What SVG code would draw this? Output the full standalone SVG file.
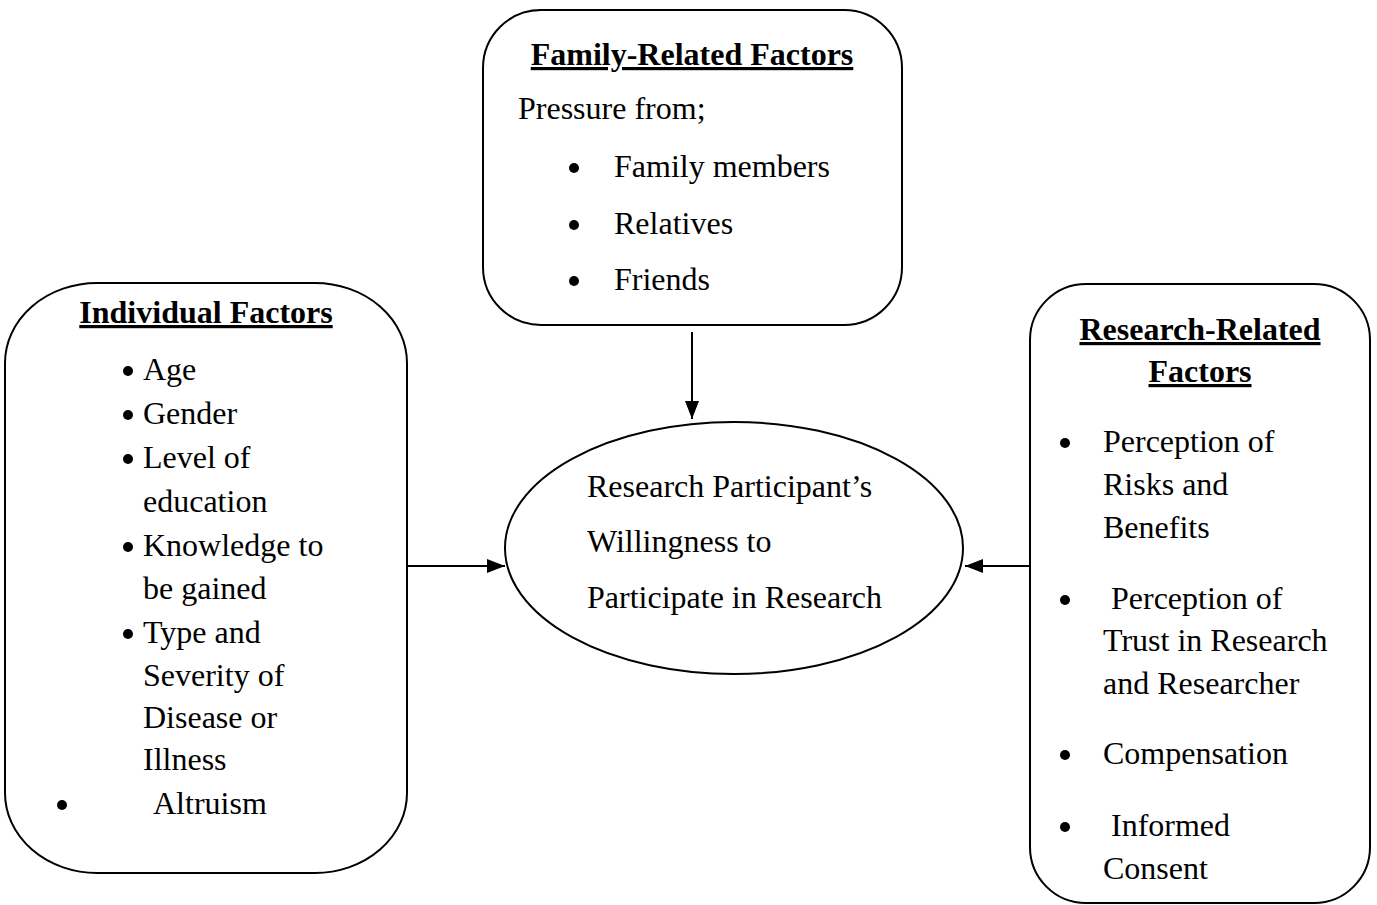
<svg xmlns="http://www.w3.org/2000/svg" width="1377" height="905" viewBox="0 0 1377 905">
<style>
.box{fill:#fff;stroke:#000;stroke-width:2}
text{font-family:"Liberation Serif","Times New Roman",serif;font-size:32px;fill:#000}
.t{font-weight:bold;text-decoration:underline;text-anchor:middle}
.b{fill:#000}
.c{stroke:#000;stroke-width:2;fill:none}
</style>
<defs>
<marker id="ah" viewBox="0 0 18 14" refX="18" refY="7" markerWidth="18" markerHeight="14" markerUnits="userSpaceOnUse" orient="auto">
<path d="M0,0 L18,7 L0,14 Z" fill="#000"/>
</marker>
</defs>
<rect width="1377" height="905" fill="#fff"/>
<g id="family">
<rect class="box" x="483" y="10" width="419" height="315" rx="58" ry="58"/>
<text class="t" x="692" y="65">Family-Related Factors</text>
<text x="518" y="119">Pressure from;</text>
<circle class="b" cx="574" cy="168" r="5"/>
<text x="614" y="177">Family members</text>
<circle class="b" cx="574" cy="225" r="5"/>
<text x="614" y="234">Relatives</text>
<circle class="b" cx="574" cy="281" r="5"/>
<text x="614" y="290">Friends</text>
</g>
<g id="individual">
<rect class="box" x="5" y="283" width="402" height="590" rx="92" ry="80"/>
<text class="t" x="206" y="323">Individual Factors</text>
<circle class="b" cx="128" cy="371" r="5"/>
<text x="143" y="380">Age</text>
<circle class="b" cx="128" cy="415" r="5"/>
<text x="143" y="424">Gender</text>
<circle class="b" cx="128" cy="459" r="5"/>
<text x="143" y="468">Level of</text>
<text x="143" y="512">education</text>
<circle class="b" cx="128" cy="547" r="5"/>
<text x="143" y="556">Knowledge to</text>
<text x="143" y="599">be gained</text>
<circle class="b" cx="128" cy="634" r="5"/>
<text x="143" y="643">Type and</text>
<text x="143" y="686">Severity of</text>
<text x="143" y="728">Disease or</text>
<text x="143" y="770">Illness</text>
<circle class="b" cx="62" cy="805" r="5"/>
<text x="153" y="814">Altruism</text>
</g>
<g id="research">
<rect class="box" x="1030" y="284" width="340" height="619" rx="56" ry="56"/>
<text class="t" x="1200" y="340">Research-Related</text>
<text class="t" x="1200" y="382">Factors</text>
<circle class="b" cx="1065" cy="443" r="5"/>
<text x="1103" y="452">Perception of</text>
<text x="1103" y="495">Risks and</text>
<text x="1103" y="538">Benefits</text>
<circle class="b" cx="1065" cy="600" r="5"/>
<text x="1111" y="609">Perception of</text>
<text x="1103" y="651">Trust in Research</text>
<text x="1103" y="694">and Researcher</text>
<circle class="b" cx="1065" cy="755" r="5"/>
<text x="1103" y="764">Compensation</text>
<circle class="b" cx="1065" cy="827" r="5"/>
<text x="1111" y="836">Informed</text>
<text x="1103" y="879">Consent</text>
</g>
<g id="willingness">
<ellipse class="box" cx="734" cy="548" rx="229" ry="126"/>
<text x="587" y="497">Research Participant’s</text>
<text x="587" y="552">Willingness to</text>
<text x="587" y="608">Participate in Research</text>
</g>
<g id="connectors">
<line class="c" x1="692" y1="332" x2="692" y2="419" marker-end="url(#ah)"/>
<line class="c" x1="407" y1="566" x2="505" y2="566" marker-end="url(#ah)"/>
<line class="c" x1="1030" y1="566" x2="965" y2="566" marker-end="url(#ah)"/>
</g>
</svg>
